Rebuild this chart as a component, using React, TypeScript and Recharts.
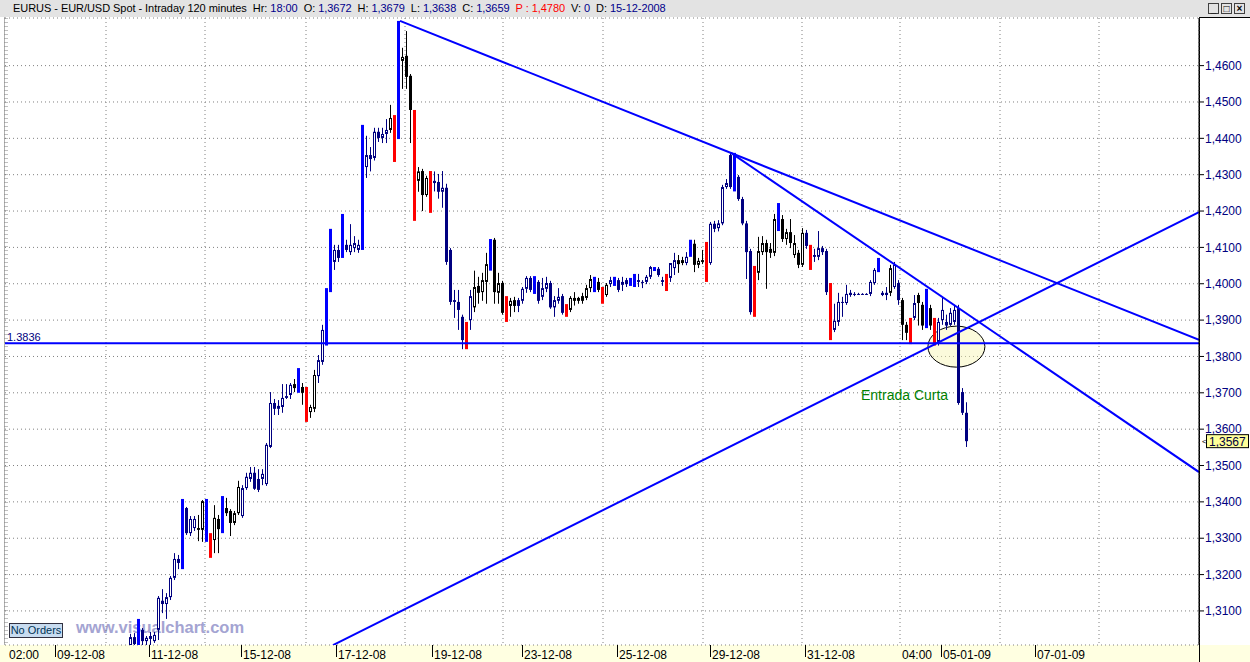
import React from 'react';
import { ComposedChart, Bar, XAxis, YAxis, CartesianGrid, ReferenceLine, ReferenceDot } from 'recharts';

// EUR/USD 120 min bars, first visible bar sits at index 31 of the x scale
const firstBar = 31;

const opens = [
  1.3006, 1.3028, 1.3006, 1.3048, 1.3017, 1.3023, 1.3017,
  1.3048, 1.3128, 1.3119, 1.3138, 1.3191, 1.3243, 1.3232, 1.3383, 1.3314, 1.3328, 1.3328, 1.3323, 1.3405, 1.3314, 1.3295, 1.3353, 1.3323, 1.3383, 1.3375, 1.3342,
  1.3369, 1.3361, 1.3438, 1.3463, 1.3480, 1.3463, 1.3463, 1.3449, 1.3551, 1.3672, 1.3656, 1.3661, 1.3686, 1.3694, 1.3724, 1.3713, 1.3716, 1.3713, 1.3647, 1.3656,
  1.3746, 1.3785, 1.3840, 1.3985, 1.4060, 1.4093, 1.4075, 1.4107, 1.4087, 1.4098, 1.4093, 1.4100,
  1.4321, 1.4354, 1.4346, 1.4418, 1.4401, 1.4412, 1.4423, 1.4460, 1.4400, 1.4613, 1.4627, 1.4572, 1.4475, 1.4283, 1.4310, 1.4244, 1.4305, 1.4283, 1.4280, 1.4253, 1.4264,
  1.4093, 1.3955, 1.3950, 1.3909, 1.3890, 1.3900, 1.3935, 1.3994, 1.3977, 1.4005, 1.4045, 1.4121, 1.3975, 1.4002, 1.3960, 1.3939, 1.3955, 1.3955, 1.3953, 1.3986,
  1.4016, 1.4018, 1.4005, 1.3964, 1.3986, 1.4002, 1.3935, 1.3953, 1.3966, 1.3942, 1.3928, 1.3961, 1.3961, 1.3966, 1.3961, 1.3988, 1.3985, 1.4005, 1.3988, 1.3969,
  1.3999, 1.3996, 1.4010, 1.3997, 1.4010, 1.3996, 1.4024, 1.4010, 1.4005, 1.4005, 1.4019, 1.4044, 1.4041, 1.4010, 1.4024, 1.4016, 1.4043, 1.4065, 1.4065, 1.4057,
  1.4078, 1.4110, 1.4052, 1.4065, 1.4110, 1.4057, 1.4165, 1.4153,
  1.4166, 1.4266, 1.4354, 1.4355, 1.4294, 1.4233, 1.4166, 1.4090, 1.4040, 1.4030, 1.4087, 1.4112, 1.4096, 1.4085, 1.4150, 1.4178, 1.4123, 1.4142, 1.4079, 1.4085,
  1.4052, 1.4140, 1.4104, 1.4079, 1.4074, 1.4098, 1.4090, 1.3998, 1.3873, 1.3895, 1.3950, 1.3947, 1.3975, 1.3972, 1.3972, 1.3972, 1.3971, 1.3972, 1.4002, 1.4035,
  1.3975, 1.3975, 1.3975, 1.3991, 1.4002, 1.3955, 1.3887, 1.3900, 1.3906, 1.3969, 1.3942, 1.3980, 1.3933, 1.3900, 1.3840, 1.3900, 1.3895, 1.3887, 1.3895, 1.3933,
  1.3702, 1.3645,
];

const highs = [
  1.3037, 1.3039, 1.3078, 1.3053, 1.3031, 1.3042, 1.3042,
  1.3141, 1.3160, 1.3149, 1.3196, 1.3259, 1.3254, 1.3408, 1.3386, 1.3361, 1.3361, 1.3364, 1.3405, 1.3408, 1.3314, 1.3391, 1.3364, 1.3416, 1.3411, 1.3380, 1.3375,
  1.3458, 1.3446, 1.3480, 1.3496, 1.3496, 1.3490, 1.3490, 1.3562, 1.3702, 1.3683, 1.3680, 1.3724, 1.3724, 1.3727, 1.3738, 1.3768, 1.3727, 1.3716, 1.3667, 1.3763,
  1.3804, 1.3887, 1.3988, 1.4151, 1.4107, 1.4107, 1.4192, 1.4121, 1.4164, 1.4131, 1.4121, 1.4437,
  1.4407, 1.4376, 1.4429, 1.4429, 1.4429, 1.4453, 1.4492, 1.4464, 1.4723, 1.4649, 1.4695, 1.4577, 1.4478, 1.4321, 1.4316, 1.4297, 1.4310, 1.4309, 1.4302, 1.4310, 1.4275,
  1.4098, 1.3983, 1.3983, 1.3915, 1.3895, 1.3983, 1.4036, 1.4019, 1.4030, 1.4085, 1.4123, 1.4126, 1.4030, 1.4008, 1.3966, 1.3961, 1.3964, 1.3961, 1.3991, 1.4021,
  1.4021, 1.4021, 1.4010, 1.4016, 1.4019, 1.4008, 1.3966, 1.3988, 1.3972, 1.3944, 1.3966, 1.3977, 1.3964, 1.3975, 1.3997, 1.4024, 1.4019, 1.4016, 1.3991, 1.4002,
  1.4019, 1.4019, 1.4016, 1.4019, 1.4016, 1.4016, 1.4027, 1.4027, 1.4010, 1.4024, 1.4049, 1.4046, 1.4046, 1.4019, 1.4027, 1.4057, 1.4085, 1.4079, 1.4074, 1.4087,
  1.4121, 1.4121, 1.4071, 1.4093, 1.4115, 1.4170, 1.4173, 1.4175,
  1.4272, 1.4288, 1.4360, 1.4360, 1.4299, 1.4239, 1.4173, 1.4096, 1.4049, 1.4129, 1.4131, 1.4121, 1.4112, 1.4192, 1.4222, 1.4189, 1.4151, 1.4178, 1.4134, 1.4093,
  1.4153, 1.4148, 1.4107, 1.4096, 1.4145, 1.4104, 1.4096, 1.4002, 1.3945, 1.3975, 1.3964, 1.3997, 1.3983, 1.3977, 1.3975, 1.3974, 1.3974, 1.4010, 1.4043, 1.4071,
  1.3980, 1.3991, 1.4052, 1.4060, 1.4010, 1.3961, 1.3895, 1.3906, 1.3969, 1.3975, 1.3950, 1.3986, 1.3942, 1.3906, 1.3906, 1.3961, 1.3915, 1.3933, 1.3942, 1.3942,
  1.3713, 1.3674,
];

const lows = [
  1.2993, 1.2998, 1.2993, 1.3004, 1.3004, 1.3006, 1.3012,
  1.3020, 1.3094, 1.3078, 1.3130, 1.3185, 1.3215, 1.3215, 1.3309, 1.3306, 1.3320, 1.3292, 1.3290, 1.3290, 1.3246, 1.3259, 1.3259, 1.3314, 1.3361, 1.3306, 1.3336,
  1.3364, 1.3356, 1.3433, 1.3455, 1.3433, 1.3427, 1.3446, 1.3444, 1.3548, 1.3639, 1.3639, 1.3645, 1.3683, 1.3683, 1.3702, 1.3700, 1.3667, 1.3620, 1.3631, 1.3647,
  1.3727, 1.3777, 1.3830, 1.3977, 1.4038, 1.4060, 1.4071, 1.4087, 1.4079, 1.4087, 1.4085, 1.4093,
  1.4291, 1.4309, 1.4339, 1.4390, 1.4387, 1.4387, 1.4415, 1.4335, 1.4398, 1.4536, 1.4536, 1.4387, 1.4173, 1.4253, 1.4200, 1.4239, 1.4195, 1.4254, 1.4234, 1.4209, 1.4052,
  1.3942, 1.3906, 1.3873, 1.3820, 1.3820, 1.3873, 1.3922, 1.3945, 1.3953, 1.3945, 1.4036, 1.3945, 1.3945, 1.3915, 1.3895, 1.3909, 1.3922, 1.3922, 1.3945, 1.3975,
  1.3977, 1.3972, 1.3945, 1.3955, 1.3977, 1.3931, 1.3909, 1.3945, 1.3915, 1.3909, 1.3922, 1.3940, 1.3945, 1.3945, 1.3955, 1.3977, 1.3977, 1.3977, 1.3945, 1.3964,
  1.3991, 1.3994, 1.3977, 1.3980, 1.3991, 1.3994, 1.3991, 1.3991, 1.3988, 1.3999, 1.4013, 1.4035, 1.4019, 1.3994, 1.3980, 1.4005, 1.4024, 1.4030, 1.4051, 1.4051,
  1.4074, 1.4032, 1.4043, 1.4054, 1.4005, 1.4052, 1.4142, 1.4144,
  1.4161, 1.4261, 1.4261, 1.4254, 1.4228, 1.4161, 1.4013, 1.3915, 1.3909, 1.4010, 1.4079, 1.3986, 1.4071, 1.4076, 1.4145, 1.4115, 1.4107, 1.4098, 1.4071, 1.4043,
  1.4046, 1.4096, 1.4038, 1.4060, 1.4065, 1.4079, 1.3969, 1.3845, 1.3867, 1.3884, 1.3909, 1.3942, 1.3964, 1.3966, 1.3969, 1.3970, 1.3969, 1.3966, 1.3997, 1.4032,
  1.3966, 1.3955, 1.3966, 1.3986, 1.3942, 1.3845, 1.3845, 1.3834, 1.3900, 1.3885, 1.3873, 1.3878, 1.3873, 1.3830, 1.3830, 1.3887, 1.3873, 1.3884, 1.3887, 1.3667,
  1.3639, 1.3551,
];

const closes = [
  1.3028, 1.3009, 1.3070, 1.3017, 1.3026, 1.3031, 1.3034,
  1.3136, 1.3119, 1.3138, 1.3191, 1.3243, 1.3232, 1.3405, 1.3314, 1.3353, 1.3353, 1.3323, 1.3402, 1.3295, 1.3251, 1.3356, 1.3325, 1.3411, 1.3369, 1.3342, 1.3369,
  1.3441, 1.3438, 1.3469, 1.3480, 1.3436, 1.3433, 1.3477, 1.3557, 1.3672, 1.3656, 1.3664, 1.3686, 1.3691, 1.3722, 1.3713, 1.3765, 1.3700, 1.3626, 1.3661, 1.3749,
  1.3790, 1.3873, 1.3980, 1.4140, 1.4093, 1.4071, 1.4185, 1.4093, 1.4107, 1.4112, 1.4107, 1.4430,
  1.4354, 1.4343, 1.4418, 1.4401, 1.4412, 1.4423, 1.4456, 1.4340, 1.4715, 1.4624, 1.4569, 1.4478, 1.4180, 1.4309, 1.4244, 1.4291, 1.4200, 1.4277, 1.4253, 1.4264, 1.4060,
  1.3950, 1.3950, 1.3928, 1.3845, 1.3830, 1.3966, 1.3991, 1.3975, 1.4010, 1.4054, 1.4120, 1.3977, 1.4002, 1.3920, 1.3900, 1.3953, 1.3939, 1.3939, 1.3986, 1.4016,
  1.3983, 1.3976, 1.3953, 1.3988, 1.4002, 1.3935, 1.3955, 1.3964, 1.3920, 1.3912, 1.3961, 1.3953, 1.3953, 1.3953, 1.3988, 1.4013, 1.4015, 1.3983, 1.3948, 1.3997,
  1.4010, 1.4017, 1.3983, 1.4005, 1.3999, 1.4013, 1.3993, 1.4005, 1.4002, 1.4019, 1.4046, 1.4038, 1.4024, 1.4005, 1.3983, 1.4057, 1.4065, 1.4054, 1.4057, 1.4074,
  1.4118, 1.4052, 1.4063, 1.4060, 1.4010, 1.4165, 1.4151, 1.4166,
  1.4266, 1.4277, 1.4266, 1.4260, 1.4233, 1.4166, 1.4087, 1.3922, 1.3915, 1.4090, 1.4112, 1.4087, 1.4085, 1.4178, 1.4215, 1.4123, 1.4142, 1.4112, 1.4112, 1.4052,
  1.4140, 1.4104, 1.4042, 1.4074, 1.4098, 1.4087, 1.3977, 1.3850, 1.3898, 1.3950, 1.3947, 1.3972, 1.3969, 1.3972, 1.3972, 1.3971, 1.3972, 1.4005, 1.4038, 1.4068,
  1.3969, 1.3969, 1.4043, 1.4052, 1.3955, 1.3887, 1.3865, 1.3838, 1.3947, 1.3947, 1.3885, 1.3882, 1.3885, 1.3835, 1.3895, 1.3928, 1.3885, 1.3920, 1.3928, 1.3672,
  1.3645, 1.3567,
];

// paint bar codes: n = normal, k = black, b = blue signal bar, r = red signal bar
const paints = [
  'nnbnnnn',
  'nnnnnnbnnnkkbrkkbkkkknnnnnnnnnnnnnkbkrkk',
  'nnbbnnbnnnnb',
  'nnnnnnkrbkkkrkkkrnnnn',
  'nnnnrnkkkkbkkkrkknnnnbnnnnnnnrkkkkkkbkrknbnnnbbnnnnbnnrnnkknbkkkrnnn',
  'nnnbnnnnrkkkkkbkkkkkknrnnnnrnnnnnnnnnnnbnnknnkkrnkkbkrnnnnnnnn',
].join('');

const priceTicks = [1.31, 1.32, 1.33, 1.34, 1.35, 1.36, 1.37, 1.38, 1.39, 1.40, 1.41, 1.42, 1.43, 1.44, 1.45, 1.46];
const gridTicks = [0.25, 25, 49.75, 75, 99.75, 124.25, 149.25, 174.25, 199, 223.5, 248.5, 273.25];
const dayTicks = [0.25, 12.25, 35.75, 58.75, 82.5, 106.5, 129, 152.75, 176, 199.75, 223.5, 233.75, 257.25];
const dayLabels = ['02:00', '09-12-08', '11-12-08', '15-12-08', '17-12-08', '19-12-08', '23-12-08', '25-12-08', '29-12-08', '31-12-08', '04:00', '05-01-09', '07-01-09'];

const support = 1.3836;
const lastPrice = 1.3567;
const trendFrom = [[98.5, 1.4723], [181.25, 1.436], [81.75, 1.3006]];
const trendTo = [[298.25, 1.3846], [298.25, 1.3482], [298.25, 1.4197]];
const note = { x: 213.75, y: 1.368, text: 'Entrada Curta' };
const circle = { x: 237.6, y: 1.3827 };

const header = [
  ['EURUS - EUR/USD Spot - Intraday 120 minutes  Hr: ', 'k'],
  ['18:00', 'v'], ['  O: ', 'k'], ['1,3672', 'v'], ['  H: ', 'k'], ['1,3679', 'v'],
  ['  L: ', 'k'], ['1,3638', 'v'], ['  C: ', 'k'], ['1,3659', 'v'], ['  P : 1,4780', 'r'],
  ['  V: ', 'k'], ['0', 'v'], ['  D: ', 'k'], ['15-12-2008', 'v'],
];

const candles = opens.map((o, k) => ({
  idx: firstBar + k,
  open: o,
  high: highs[k],
  low: lows[k],
  close: closes[k],
  paint: paints[k] || 'n',
  range: [lows[k], highs[k]],
}));

const font = '"Liberation Sans", Arial, sans-serif';
const NAVY = '#000080';
const paintColor: Record<string, string> = { n: NAVY, k: '#000000', b: '#0000ff', r: '#ff0000' };
const headerColor: Record<string, string> = { k: '#000000', v: '#00008b', r: '#ff0000' };
const X_DOMAIN: [number, number] = [-0.25, 298.25];

const priceFmt = (v: number) => v.toFixed(4).replace('.', ',');

function Candle(props: any) {
  const { x, y, width, height, payload } = props;
  if (x == null || y == null || !payload) return null;
  const cx = Math.round(x + width / 2);
  const top = Math.min(y, y + height);
  const bottom = Math.max(y, y + height);
  const span = payload.high - payload.low;
  const py = (p: number) => (span > 0 ? top + ((payload.high - p) / span) * (bottom - top) : top);
  const color = paintColor[payload.paint];

  if (payload.paint === 'b' || payload.paint === 'r') {
    return <rect x={cx - 1} y={top} width={3} height={Math.max(bottom - top, 1)} fill={color} />;
  }

  const yo = py(payload.open);
  const yc = py(payload.close);
  const bTop = Math.min(yo, yc);
  const bBot = Math.max(yo, yc);
  let body;
  if (bBot - bTop < 1.5) {
    body = <line x1={cx - 1} x2={cx + 2} y1={bTop + 0.5} y2={bTop + 0.5} stroke={color} />;
  } else if (payload.close >= payload.open) {
    body = <rect x={cx - 0.5} y={bTop + 0.5} width={2} height={bBot - bTop - 1} fill="#fff" stroke={color} strokeWidth={1} />;
  } else {
    body = <rect x={cx - 1} y={bTop} width={3} height={bBot - bTop} fill={color} />;
  }
  return (
    <g>
      <line x1={cx + 0.5} x2={cx + 0.5} y1={top} y2={bottom} stroke={color} strokeWidth={1} />
      {body}
    </g>
  );
}

function DayTick(props: any) {
  const { x, y, payload } = props;
  const label = dayLabels[dayTicks.indexOf(payload.value)] ?? '';
  const px = Math.round(x) + 0.5;
  return (
    <g>
      {label.indexOf('-') > 0 && <line x1={px} x2={px} y1={y} y2={y + 12} stroke="#000" />}
      <text x={px + 1.5} y={y + 14} fontSize={12} fontFamily={font} fill="#000">
        {label}
      </text>
    </g>
  );
}

function PriceFlag(props: any) {
  const { cx, cy } = props;
  return (
    <g>
      <text x={cx + 3} y={cy + 3} fontSize={8} fontFamily={font} fill="#000">
        {'<'}
      </text>
      <rect x={cx + 7.5} y={cy - 6.5} width={42} height={13} fill="#ffff99" stroke="#000" />
      <text x={cx + 10} y={cy + 4.5} fontSize={12} fontFamily={font} fill="#000040">
        {priceFmt(lastPrice)}
      </text>
    </g>
  );
}

export default function App() {
  return (
    <div style={{ position: 'absolute', left: 0, top: 0, width: 1250, height: 662, background: '#fff', overflow: 'hidden', fontFamily: font }}>
      <div style={{ position: 'absolute', left: 0, top: 0, width: 1250, height: 17, background: '#e3e3e3' }} />
      <div style={{ position: 'absolute', left: 13, top: 1, fontSize: 11, lineHeight: '14px', whiteSpace: 'pre', letterSpacing: '-0.05px' }}>
        {header.map(([t, c], k) => (
          <span key={k} style={{ color: headerColor[c] }}>
            {t}
          </span>
        ))}
      </div>
      {['_', '□', '×'].map((g, k) => (
        <div
          key={g}
          style={{
            position: 'absolute', left: 1208 + k * 13, top: 3, width: 11, height: 11, border: '1px solid #404040',
            boxSizing: 'border-box', fontSize: 10, lineHeight: '9px', textAlign: 'center', fontWeight: 'bold', color: '#000',
          }}
        >
          {g}
        </div>
      ))}
      <div style={{ position: 'absolute', left: 0, top: 645, width: 1250, height: 17, background: '#ffffe1' }} />
      <div style={{ position: 'absolute', left: 4, top: 17, width: 1, height: 628, background: '#b0b0b0' }} />
      <div style={{ position: 'absolute', left: 1199, top: 17, width: 51, height: 1, background: '#000' }} />
      <div style={{ position: 'absolute', left: 1199, top: 17, width: 1, height: 645, background: '#000' }} />
      <div style={{ position: 'absolute', left: 76, top: 618, fontSize: 16.5, fontWeight: 'bold', color: '#a4a4d2' }}>www.visualchart.com</div>
      <div style={{ position: 'absolute', left: 0, top: 0 }}>
        <ComposedChart width={1250} height={662} data={candles} margin={{ top: 18, right: 0, bottom: 0, left: 5 }}>
          <XAxis
            xAxisId="g" type="number" dataKey="idx" domain={X_DOMAIN} allowDataOverflow ticks={gridTicks} interval={0}
            height={0} tickSize={4} tickLine={{ stroke: '#000' }} axisLine={{ stroke: '#000' }} tick={() => <g />}
          />
          <XAxis
            xAxisId="d" type="number" dataKey="idx" domain={X_DOMAIN} allowDataOverflow ticks={dayTicks} interval={0}
            height={17} tickSize={0} tickMargin={0} axisLine={false} tickLine={false} tick={(p: any) => <DayTick {...p} />}
          />
          <YAxis
            yAxisId="p" orientation="right" type="number" domain={[1.30063, 1.4731]} allowDataOverflow ticks={priceTicks}
            tickFormatter={priceFmt} width={51} tickSize={5} tickMargin={1} interval={0}
            axisLine={{ stroke: '#000' }} tickLine={{ stroke: '#000' }} tick={{ fill: NAVY, fontSize: 12, fontFamily: font }}
          />
          <CartesianGrid xAxisId="g" yAxisId="p" stroke="#808080" strokeDasharray="1 3" />
          <ReferenceDot
            {...({ zIndex: 0 } as any)}
            xAxisId="g" yAxisId="p" x={circle.x} y={circle.y} ifOverflow="visible"
            shape={(p: any) => (
              <ellipse cx={p.cx} cy={p.cy} rx={28.5} ry={20.5} fill="#f7f3b0" fillOpacity={0.45} stroke="#000" strokeWidth={1} />
            )}
          />
          <Bar xAxisId="g" yAxisId="p" dataKey="range" barSize={3} isAnimationActive={false} shape={(p: any) => <Candle {...p} />} />
          <ReferenceLine
            xAxisId="g" yAxisId="p" y={support} stroke="#0000ff" strokeWidth={2}
            label={{ value: support.toFixed(4), position: 'insideBottomLeft', offset: 2, fill: NAVY, fontSize: 11, fontFamily: font }}
          />
          {trendFrom.map((f, k) => (
            <ReferenceLine
              key={k} xAxisId="g" yAxisId="p" ifOverflow="hidden" stroke="#0000ff" strokeWidth={2}
              segment={[{ x: f[0], y: f[1] }, { x: trendTo[k][0], y: trendTo[k][1] }]}
            />
          ))}
          <ReferenceDot
            xAxisId="g" yAxisId="p" x={note.x} y={note.y} ifOverflow="visible"
            shape={(p: any) => (
              <text x={p.cx} y={p.cy} fill="#008000" fontSize={14} fontFamily={font}>
                {note.text}
              </text>
            )}
          />
          <ReferenceDot xAxisId="g" yAxisId="p" x={X_DOMAIN[1]} y={lastPrice} ifOverflow="visible" shape={(p: any) => <PriceFlag {...p} />} />
        </ComposedChart>
      </div>
      <div
        style={{
          position: 'absolute', left: 9, top: 623, width: 54, height: 15, border: '1px solid #303040', boxSizing: 'border-box',
          background: '#c8dcf0', fontSize: 11, lineHeight: '13px', textAlign: 'center', color: '#003355',
        }}
      >
        No Orders
      </div>
    </div>
  );
}
